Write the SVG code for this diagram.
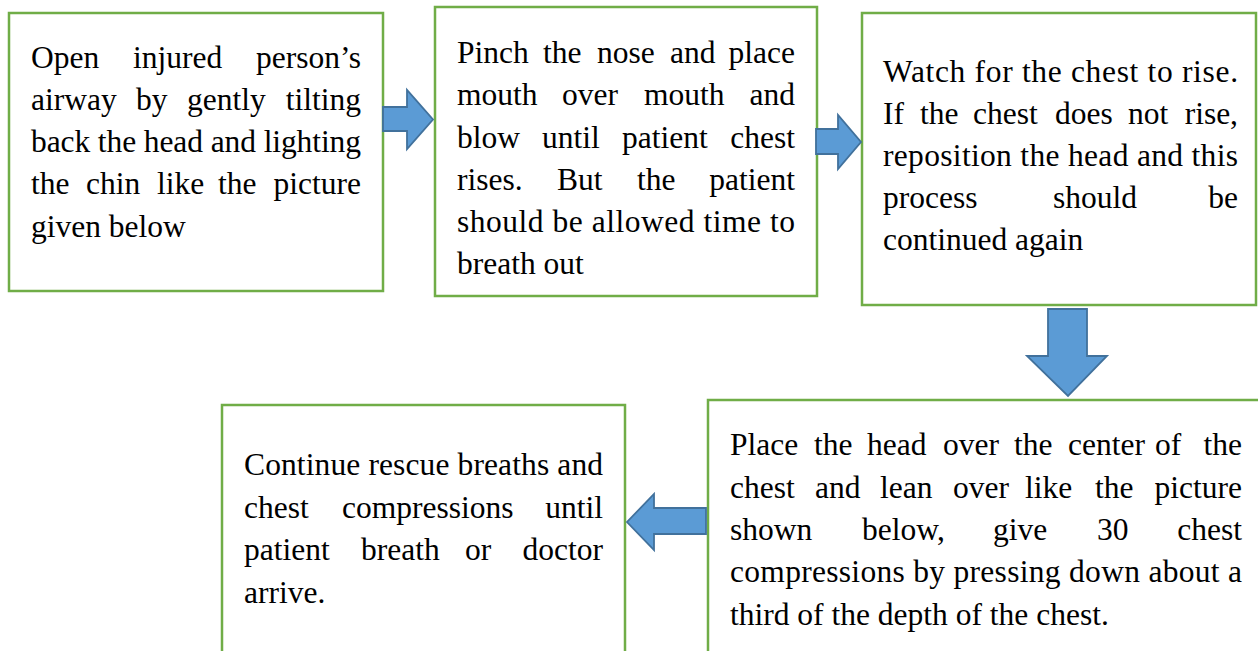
<svg xmlns="http://www.w3.org/2000/svg" width="1258" height="651" viewBox="0 0 1258 651">
<style>
.box{fill:#fff;stroke:#70AD47;stroke-width:2.5}
.t{font-size:31.5px;fill:#000}
.e{text-anchor:end}
.arr{fill:#5B9BD5;stroke:#41719C;stroke-width:1.8;stroke-linejoin:miter}
</style>
<rect width="1258" height="651" fill="#fff"/>
<g id="node1" font-family="Liberation Serif, Times New Roman, serif">
<rect class="box" x="9" y="13" width="374" height="278"/>
<text class="t"><tspan x="31" y="68">Open</tspan><tspan x="133" y="68">injured</tspan><tspan class="e" x="361" y="68">person’s</tspan></text>
<text class="t"><tspan x="31" y="110">airway</tspan><tspan x="136" y="110">by</tspan><tspan x="187" y="110">gently</tspan><tspan class="e" x="361" y="110">tilting</tspan></text>
<text class="t" x="31" y="152" textLength="330" lengthAdjust="spacing">back the head and lighting</text>
<text class="t"><tspan x="31" y="194">the</tspan><tspan x="86" y="194">chin</tspan><tspan x="157" y="194">like</tspan><tspan x="218" y="194">the</tspan><tspan class="e" x="361" y="194">picture</tspan></text>
<text class="t" x="31" y="237">given below</text>
</g>
<g id="node2" font-family="Liberation Serif, Times New Roman, serif">
<rect class="box" x="435" y="7" width="382" height="289"/>
<text class="t"><tspan x="457" y="63">Pinch</tspan><tspan x="543" y="63">the</tspan><tspan x="597" y="63">nose</tspan><tspan x="670" y="63">and</tspan><tspan class="e" x="795" y="63">place</tspan></text>
<text class="t"><tspan x="457" y="105">mouth</tspan><tspan x="562" y="105">over</tspan><tspan x="644" y="105">mouth</tspan><tspan class="e" x="795" y="105">and</tspan></text>
<text class="t"><tspan x="457" y="148">blow</tspan><tspan x="542" y="148">until</tspan><tspan x="622" y="148">patient</tspan><tspan class="e" x="795" y="148">chest</tspan></text>
<text class="t"><tspan x="457" y="190">rises.</tspan><tspan x="557" y="190">But</tspan><tspan x="637" y="190">the</tspan><tspan class="e" x="795" y="190">patient</tspan></text>
<text class="t" x="457" y="232" textLength="338" lengthAdjust="spacing">should be allowed time to</text>
<text class="t" x="457" y="274">breath out</text>
</g>
<g id="node3" font-family="Liberation Serif, Times New Roman, serif">
<rect class="box" x="862" y="13" width="394" height="292"/>
<text class="t" x="883" y="82" textLength="355" lengthAdjust="spacing">Watch for the chest to rise.</text>
<text class="t"><tspan x="883" y="124">If</tspan><tspan x="920" y="124">the</tspan><tspan x="973" y="124">chest</tspan><tspan x="1055" y="124">does</tspan><tspan x="1128" y="124">not</tspan><tspan class="e" x="1238" y="124">rise,</tspan></text>
<text class="t" x="883" y="166" textLength="355" lengthAdjust="spacing">reposition the head and this</text>
<text class="t"><tspan x="883" y="208">process</tspan><tspan x="1053" y="208">should</tspan><tspan class="e" x="1238" y="208">be</tspan></text>
<text class="t" x="883" y="250">continued again</text>
</g>
<g id="node4" font-family="Liberation Serif, Times New Roman, serif">
<rect class="box" x="708" y="400" width="560" height="270"/>
<text class="t"><tspan x="730" y="455">Place</tspan><tspan x="814" y="455">the</tspan><tspan x="867" y="455">head</tspan><tspan x="943" y="455">over</tspan><tspan x="1014" y="455">the</tspan><tspan x="1068" y="455">center</tspan><tspan x="1155" y="455">of</tspan><tspan class="e" x="1242" y="455">the</tspan></text>
<text class="t"><tspan x="730" y="498">chest</tspan><tspan x="815" y="498">and</tspan><tspan x="880" y="498">lean</tspan><tspan x="953" y="498">over</tspan><tspan x="1025" y="498">like</tspan><tspan x="1095" y="498">the</tspan><tspan class="e" x="1242" y="498">picture</tspan></text>
<text class="t"><tspan x="730" y="540">shown</tspan><tspan x="862" y="540">below,</tspan><tspan x="993" y="540">give</tspan><tspan x="1097" y="540">30</tspan><tspan class="e" x="1242" y="540">chest</tspan></text>
<text class="t" x="730" y="582" textLength="512" lengthAdjust="spacing">compressions by pressing down about a</text>
<text class="t" x="730" y="625">third of the depth of the chest.</text>
</g>
<g id="node5" font-family="Liberation Serif, Times New Roman, serif">
<rect class="box" x="222" y="405" width="403" height="270"/>
<text class="t" x="244" y="475" textLength="359" lengthAdjust="spacing">Continue rescue breaths and</text>
<text class="t"><tspan x="244" y="518">chest</tspan><tspan x="342" y="518">compressions</tspan><tspan class="e" x="603" y="518">until</tspan></text>
<text class="t"><tspan x="244" y="560">patient</tspan><tspan x="361" y="560">breath</tspan><tspan x="465" y="560">or</tspan><tspan class="e" x="603" y="560">doctor</tspan></text>
<text class="t" x="244" y="603">arrive.</text>
</g>
<g id="connectors">
<path class="arr" d="M383,107 H407 V90 L433,119.5 L407,149 V131 H383 Z"/>
<path class="arr" d="M816,129 H838 V115 L861,142 L838,169 V154 H816 Z"/>
<path class="arr" d="M1048,309 H1087 V356 H1107 L1068,396 L1027,356 H1048 Z"/>
<path class="arr" d="M706,508 V534 H654 V550 L627,522 L654,494 V508 Z"/>
</g>
</svg>
